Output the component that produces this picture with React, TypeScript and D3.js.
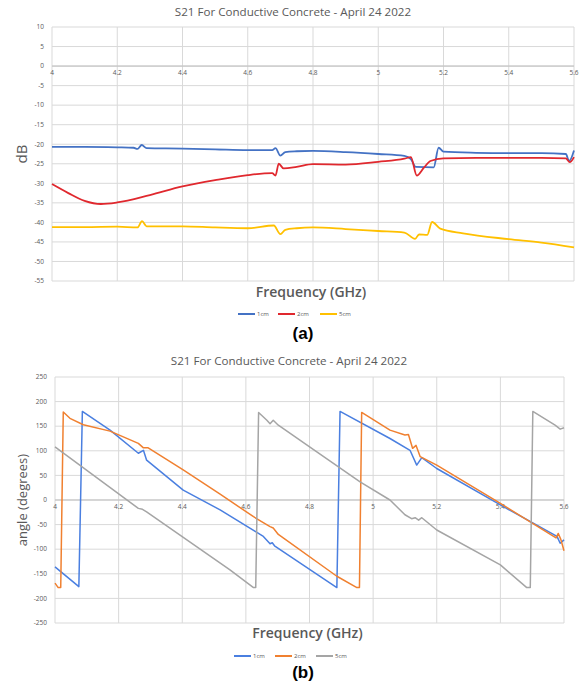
import React from "react";
import * as d3 from "d3";

// ---------- Chart (a): magnitude (dB) ----------
const magFreq1 = [4.0, 4.1, 4.2, 4.25, 4.262, 4.275, 4.29, 4.4, 4.5, 4.6, 4.675, 4.685, 4.7, 4.715, 4.75, 4.8, 4.9, 5.0, 5.08, 5.1, 5.115, 5.17, 5.185, 5.2, 5.3, 5.4, 5.5, 5.575, 5.585, 5.6];
const mag1cm = [-20.7, -20.7, -20.8, -20.9, -21.2, -20.2, -21.0, -21.1, -21.3, -21.5, -21.5, -21.0, -22.9, -22.0, -21.8, -21.7, -22.0, -22.5, -23.0, -23.8, -25.8, -25.9, -20.9, -21.9, -22.2, -22.3, -22.3, -22.5, -24.3, -21.6];

const magFreq2 = [4.0, 4.05, 4.1, 4.15, 4.2, 4.3, 4.4, 4.5, 4.6, 4.675, 4.685, 4.695, 4.71, 4.75, 4.8, 4.9, 5.0, 5.08, 5.1, 5.118, 5.14, 5.16, 5.2, 5.3, 5.4, 5.5, 5.575, 5.587, 5.6];
const mag2cm = [-30.2, -32.5, -34.5, -35.3, -34.9, -33.0, -30.8, -29.2, -27.9, -27.4, -28.0, -25.0, -26.2, -25.8, -25.1, -25.2, -24.5, -23.7, -23.3, -28.0, -26.0, -24.3, -23.6, -23.5, -23.5, -23.5, -23.6, -24.6, -23.3];

const magFreq5 = [4.0, 4.1, 4.2, 4.262, 4.276, 4.29, 4.4, 4.5, 4.6, 4.68, 4.7, 4.715, 4.75, 4.8, 4.9, 5.0, 5.08, 5.113, 5.125, 5.15, 5.165, 5.19, 5.26, 5.4, 5.5, 5.6];
const mag5cm = [-41.2, -41.2, -41.1, -41.3, -39.7, -41.0, -41.0, -41.3, -41.5, -40.8, -43.0, -41.9, -41.5, -41.3, -41.7, -42.2, -42.6, -44.2, -43.1, -43.2, -39.9, -41.6, -42.8, -44.3, -45.2, -46.4];

const magYTicks = [10, 5, 0, -5, -10, -15, -20, -25, -30, -35, -40, -45, -50, -55];

// ---------- Chart (b): phase (degrees) ----------
const phFreq1 = [4.0, 4.075, 4.086, 4.173, 4.262, 4.278, 4.288, 4.403, 4.519, 4.655, 4.676, 4.683, 4.69, 4.886, 4.896, 5.053, 5.116, 5.137, 5.153, 5.2, 5.4, 5.578, 5.588, 5.6];
const ph1cm = [-136, -176, 180, 142, 95, 101, 81, 20, -20, -74, -89, -87, -93, -178, 180, 125, 101, 71, 86, 64, -10, -74, -88, -81];

const phFreq2 = [4.0, 4.01, 4.018, 4.026, 4.047, 4.089, 4.173, 4.262, 4.278, 4.293, 4.403, 4.519, 4.624, 4.676, 4.686, 4.702, 4.886, 4.949, 4.957, 4.964, 5.053, 5.1, 5.111, 5.124, 5.135, 5.148, 5.2, 5.4, 5.575, 5.582, 5.59, 5.6];
const ph2cm = [-169, -178, -178, 179, 166, 153, 140, 115, 106, 106, 61, 12, -34, -54, -57, -70, -155, -178, -178, 178, 142, 132, 133, 105, 111, 88, 71, -7, -77, -68, -80, -103];

const phFreq5 = [4.0, 4.262, 4.275, 4.288, 4.55, 4.624, 4.631, 4.64, 4.666, 4.676, 4.686, 4.702, 4.823, 4.959, 5.053, 5.1, 5.121, 5.132, 5.143, 5.153, 5.2, 5.4, 5.483, 5.494, 5.502, 5.572, 5.588, 5.6];
const ph5cm = [108, -17, -19, -24, -142, -178, -178, 178, 162, 155, 162, 152, 98, 37, 0, -30, -38, -36, -41, -36, -61, -132, -178, -178, 180, 152, 144, 147];

const phYTicks = [250, 200, 150, 100, 50, 0, -50, -100, -150, -200, -250];

const xTicks = [4, 4.2, 4.4, 4.6, 4.8, 5, 5.2, 5.4, 5.6];
const seriesNames = ["1cm", "2cm", "5cm"];
const titleText = "S21 For Conductive Concrete - April 24 2022";

const FONT = "'Open Sans', 'Liberation Sans', sans-serif";
const GRID = "#d9d9d9";
const TXT = "#595959";

type Series = { name: string; f: number[]; v: number[]; color: string; width: number };

function Panel(props: {
  left: number; right: number; top: number; bottom: number;
  yMin: number; yMax: number; yTicks: number[];
  series: Series[]; curve: any;
  titleX: number; titleY: number; yLabel: string; yLabelX: number; yLabelSize: number;
  xLabelY: number; legendY: number; legendXs: number[]; tagText: string; tagY: number;
}) {
  const x = d3.scaleLinear().domain([4, 5.6]).range([props.left, props.right]);
  const y = d3.scaleLinear().domain([props.yMin, props.yMax]).range([props.bottom, props.top]);
  const cx = (props.left + props.right) / 2;
  const midY = (props.top + props.bottom) / 2;
  return (
    <g>
      <text x={props.titleX} y={props.titleY} textAnchor="middle" fontFamily={FONT} fontSize={11.6} fill={TXT}>{titleText}</text>
      {props.yTicks.map((t) => (
        <g key={"yt" + t}>
          <line x1={props.left} x2={props.right} y1={y(t)} y2={y(t)} stroke={GRID} strokeWidth={1} />
          <text x={props.left - 8} y={y(t)} dy="0.35em" textAnchor="end" fontFamily={FONT} fontSize={6.5} fill={TXT}>{t}</text>
        </g>
      ))}
      {xTicks.map((t) => (
        <g key={"xt" + t}>
          <line x1={x(t)} x2={x(t)} y1={props.top} y2={props.bottom} stroke={GRID} strokeWidth={1} />
          <text x={x(t)} y={y(0) + 9} textAnchor="middle" fontFamily={FONT} fontSize={6.5} fill={TXT}>{t}</text>
        </g>
      ))}
      <line x1={props.left} x2={props.right} y1={y(0)} y2={y(0)} stroke="#bfbfbf" strokeWidth={1} />
      {props.series.map((s) => {
        const pts = s.f.map((f, i) => [x(f), y(s.v[i])] as [number, number]);
        const path = d3.line().curve(props.curve)(pts) || "";
        return <path key={s.name} d={path} fill="none" stroke={s.color} strokeWidth={s.width} strokeLinejoin="round" />;
      })}
      <text x={props.yLabelX} y={midY} transform={`rotate(-90 ${props.yLabelX} ${midY})`} textAnchor="middle" fontFamily={FONT} fontSize={props.yLabelSize} fill={TXT}>{props.yLabel}</text>
      <text x={cx - 2} y={props.xLabelY} textAnchor="middle" fontFamily={FONT} fontSize={14} fontWeight={600} fill={TXT}>Frequency (GHz)</text>
      {props.series.map((s, i) => (
        <g key={"lg" + s.name}>
          <line x1={props.legendXs[i]} x2={props.legendXs[i] + 17} y1={props.legendY} y2={props.legendY} stroke={s.color} strokeWidth={2} />
          <text x={props.legendXs[i] + 19} y={props.legendY} dy="0.35em" fontFamily={FONT} fontSize={6} fill={TXT}>{s.name}</text>
        </g>
      ))}
      <text x={303} y={props.tagY} textAnchor="middle" fontFamily="'Liberation Sans', Arial, sans-serif" fontSize={17} fontWeight="bold" fill="#000">{props.tagText}</text>
    </g>
  );
}

export default function App() {
  const magSeries: Series[] = [
    { name: seriesNames[0], f: magFreq1, v: mag1cm, color: "#4472c4", width: 1.8 },
    { name: seriesNames[1], f: magFreq2, v: mag2cm, color: "#e0282e", width: 1.8 },
    { name: seriesNames[2], f: magFreq5, v: mag5cm, color: "#ffc000", width: 1.8 },
  ];
  const phSeries: Series[] = [
    { name: seriesNames[0], f: phFreq1, v: ph1cm, color: "#4a7fe0", width: 1.5 },
    { name: seriesNames[1], f: phFreq2, v: ph2cm, color: "#f08030", width: 1.5 },
    { name: seriesNames[2], f: phFreq5, v: ph5cm, color: "#a5a5a5", width: 1.5 },
  ];
  return (
    <svg width={588} height={681} style={{ position: "absolute", left: 0, top: 0, background: "#fff" }}>
      <rect x={0} y={0} width={588} height={681} fill="#fff" />
      <Panel left={52} right={574} top={27} bottom={281} yMin={-55} yMax={10} yTicks={magYTicks}
        series={magSeries} curve={d3.curveMonotoneX}
        titleX={293} titleY={16} yLabel="dB" yLabelX={27} yLabelSize={15}
        xLabelY={297} legendY={314} legendXs={[238, 278, 320]} tagText="(a)" tagY={339} />
      <Panel left={55} right={564} top={377} bottom={623} yMin={-250} yMax={250} yTicks={phYTicks}
        series={phSeries} curve={d3.curveLinear}
        titleX={289} titleY={365} yLabel="angle (degrees)" yLabelX={27} yLabelSize={13}
        xLabelY={638} legendY={656} legendXs={[234, 275, 316]} tagText="(b)" tagY={678} />
    </svg>
  );
}
